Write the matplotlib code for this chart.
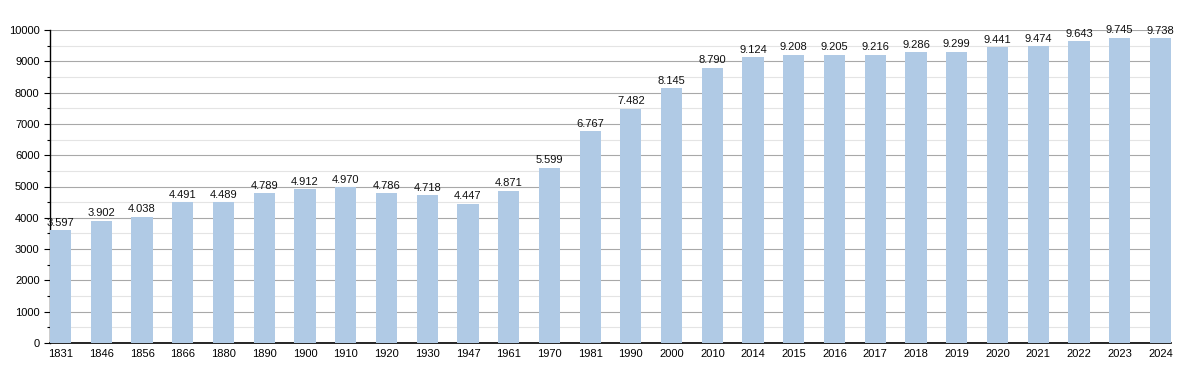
import matplotlib.pyplot as plt
from matplotlib.ticker import MultipleLocator

annees = ["1831", "1846", "1856", "1866", "1880", "1890", "1900", "1910", "1920",
          "1930", "1947", "1961", "1970", "1981", "1990", "2000", "2010", "2014",
          "2015", "2016", "2017", "2018", "2019", "2020", "2021", "2022", "2023", "2024"]
population = [3597, 3902, 4038, 4491, 4489, 4789, 4912, 4970, 4786,
              4718, 4447, 4871, 5599, 6767, 7482, 8145, 8790, 9124,
              9208, 9205, 9216, 9286, 9299, 9441, 9474, 9643, 9745, 9738]

plt.rcParams['font.family'] = ['Liberation Sans', 'DejaVu Sans']

fig = plt.figure(figsize=(12, 3.73), dpi=100)
ax = fig.add_axes([50 / 1200, 30 / 373, 1121 / 1200, 313 / 373])

x = list(range(len(annees)))
ax.bar(x, population, width=0.52, color="#b0cae5", zorder=3)

# étiquettes avec séparateur de milliers à la française (point)
for xi, v in zip(x, population):
    txt = f"{v:,}".replace(",", ".")
    ax.text(xi, v + 80, txt, ha="center", va="bottom", fontsize=8, color="#111111", zorder=4)

ax.set_xlim(-0.26, len(annees) - 0.74)
ax.set_ylim(0, 10000)
ax.set_xticks(x)
ax.set_xticklabels(annees, fontsize=8)
ax.tick_params(axis="x", length=0, pad=4)
ax.yaxis.set_major_locator(MultipleLocator(1000))
ax.yaxis.set_minor_locator(MultipleLocator(500))
ax.tick_params(axis="y", which="major", labelsize=8, length=4, width=0.8)
ax.tick_params(axis="y", which="minor", length=2, width=0.8)

ax.grid(axis="y", which="major", color="#a8a8a8", lw=0.8, zorder=0)
ax.grid(axis="y", which="minor", color="#e4e4e4", lw=0.8, zorder=0)

for s in ["top", "right"]:
    ax.spines[s].set_visible(False)
ax.spines["left"].set_linewidth(1.0)
ax.spines["bottom"].set_linewidth(1.2)

fig.savefig("out.png", dpi=100)
